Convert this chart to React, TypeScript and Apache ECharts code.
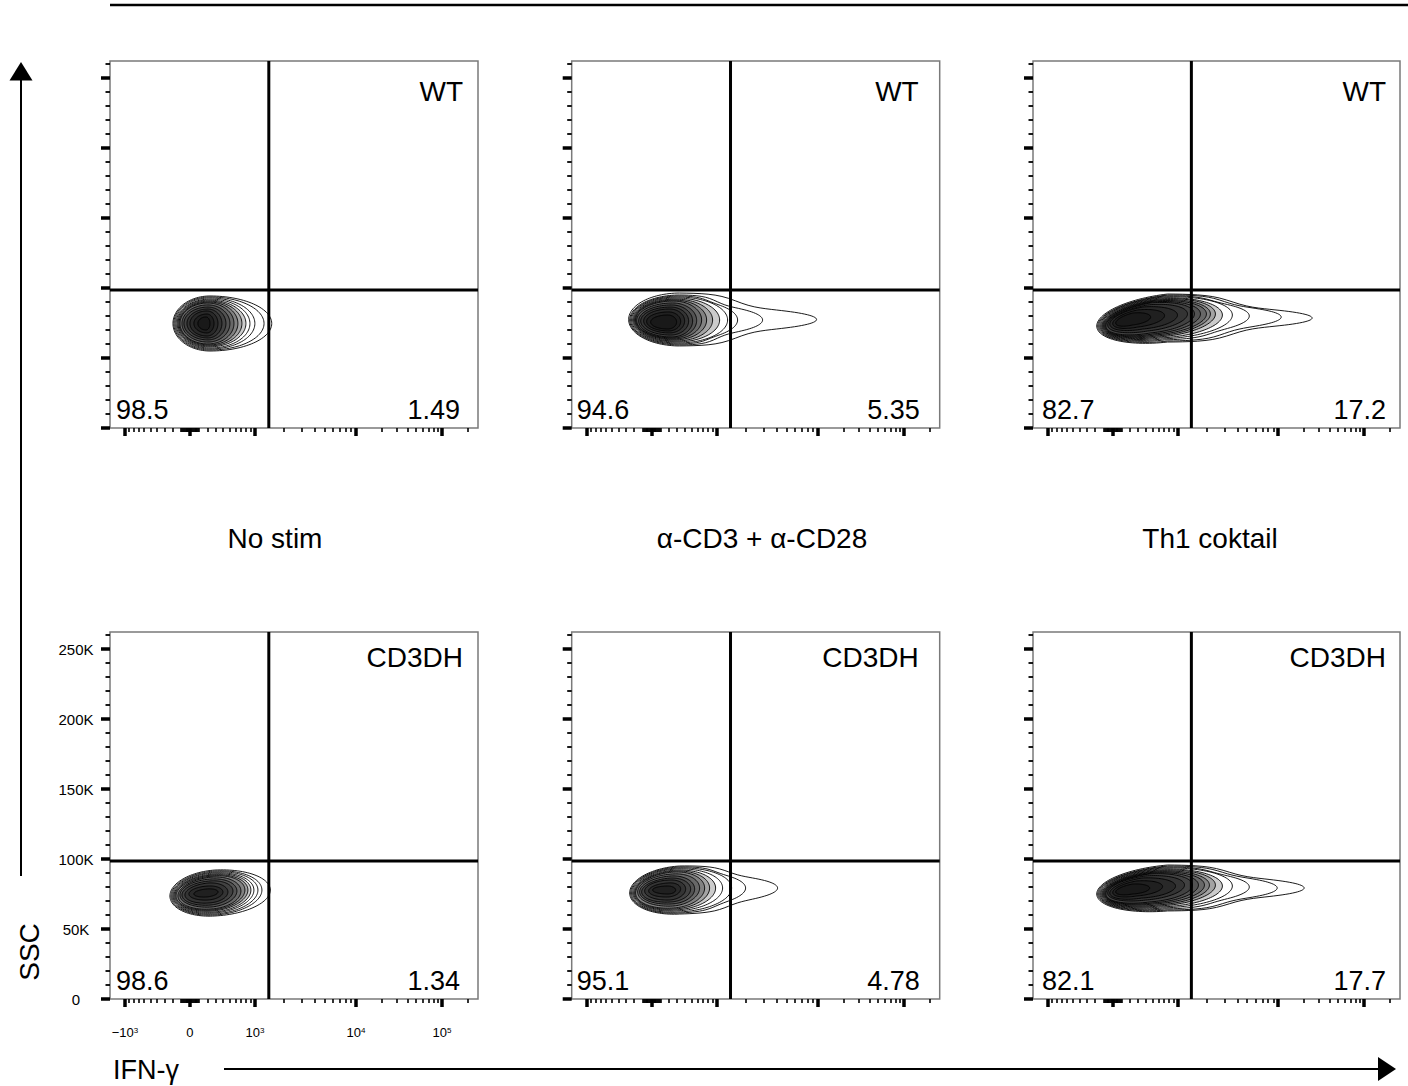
import React, { useEffect, useRef } from 'react';
import * as echarts from 'echarts';

// ---------------- data ----------------
const GROUPS = ['WT', 'WT', 'WT', 'CD3DH', 'CD3DH', 'CD3DH'];
const CONDITIONS = ['No stim', 'α-CD3 + α-CD28', 'Th1 coktail'];
const Q_LOWER_LEFT = ['98.5', '94.6', '82.7', '98.6', '95.1', '82.1'];
const Q_LOWER_RIGHT = ['1.49', '5.35', '17.2', '1.34', '4.78', '17.7'];

const GATE_IFNG = 1400;
const GATE_SSC = 98600;
const SSC_MAX = 262144;
const IFNG_MAX = 262144;
const IFNG_MIN = -1436;

const X_MAJOR_TICKS = [-1000, 0, 1000, 10000, 100000];
const X_MAJOR_LABELS = ['−10{s|3}', '0', '10{s|3}', '10{s|4}', '10{s|5}'];
const X_MINOR_TICKS = [
  -900, -800, -700, -600, -500, -400, -300, -200, -100,
  -90, -80, -70, -60, -50, -40, -30, -20, -10,
  10, 20, 30, 40, 50, 60, 70, 80, 90,
  100, 200, 300, 400, 500, 600, 700, 800, 900,
  2000, 3000, 4000, 5000, 6000, 7000, 8000, 9000,
  20000, 30000, 40000, 50000, 60000, 70000, 80000, 90000,
  200000,
];
const Y_MAJOR_TICKS = [0, 50000, 100000, 150000, 200000, 250000];
const Y_MAJOR_LABELS = ['0', '50K', '100K', '150K', '200K', '250K'];
const Y_MINOR_TICKS = [
  10000, 20000, 30000, 40000, 60000, 70000, 80000, 90000,
  110000, 120000, 130000, 140000, 160000, 170000, 180000, 190000,
  210000, 220000, 230000, 240000, 260000,
];

// contour level records, outer -> inner:
// [ifngLow, ifngPeak, ifngHigh, sscLow, sscHigh, tail, neck, sscShiftLowEnd, sscShiftHighEnd]
const CONTOURS_WT_NOSTIM = [
  [-193, 230, 1500, 55000, 94300, 0, 0, 0, 0],
  [-182, 230, 1250, 55700, 93600, 0, 0, 0, 0],
  [-170, 230, 1000, 56400, 92900, 0, 0, 0, 0],
  [-158, 230, 883, 57100, 92100, 0, 0, 0, 0],
  [-146, 217, 796, 57900, 91400, 0, 0, 0, 0],
  [-135, 217, 715, 58600, 90700, 0, 0, 0, 0],
  [-123, 217, 640, 59300, 90000, 0, 0, 0, 0],
  [-112, 205, 571, 60000, 89300, 0, 0, 0, 0],
  [-89, 205, 505, 61400, 87900, 0, 0, 0, 0],
  [-67, 205, 444, 62900, 86400, 0, 0, 0, 0],
  [-33, 205, 386, 64300, 85000, 0, 0, 0, 0],
  [0, 193, 332, 65700, 83600, 0, 0, 0, 0],
  [44, 193, 280, 67900, 81400, 0, 0, 0, 0],
  [89, 182, 230, 70000, 79300, 0, 0, 0, 0],
];
const CONTOURS_WT_CD3 = [
  [-267, 332, 9770, 58600, 96400, 0.5, 0.42, 0, 0],
  [-254, 332, 2925, 59300, 95000, 0.35, 0.45, 0, 0],
  [-242, 318, 1653, 60000, 94300, 0.15, 0.5, 0, 0],
  [-230, 305, 1307, 60700, 93600, 0, 0, 0, 0],
  [-217, 292, 1078, 61400, 92900, 0, 0, 0, 0],
  [-205, 280, 905, 62100, 92100, 0, 0, 0, 0],
  [-193, 267, 775, 62900, 91400, 0, 0, 0, 0],
  [-182, 254, 677, 63600, 90700, 0, 0, 0, 0],
  [-170, 242, 588, 64300, 89300, 0, 0, 0, 0],
  [-146, 230, 521, 65000, 87900, 0, 0, 0, 0],
  [-123, 217, 459, 66400, 86400, 0, 0, 0, 0],
  [-89, 205, 400, 67900, 85000, 0, 0, 0, 0],
  [-56, 193, 345, 69300, 82900, 0, 0, 0, 0],
  [-11, 182, 292, 70700, 80700, 0, 0, 0, 0],
];
const CONTOURS_WT_TH1 = [
  [-182, 775, 24830, 61400, 95700, 0.5, 0.45, -5700, 0],
  [-170, 775, 10830, 62100, 95000, 0.4, 0.5, -5700, 700],
  [-158, 715, 5237, 62900, 94300, 0.2, 0.55, -5700, 1400],
  [-146, 677, 3580, 63600, 93600, 0, 0, -5700, 2100],
  [-135, 640, 2860, 64300, 92900, 0, 0, -5700, 2100],
  [-123, 605, 2441, 65000, 92100, 0, 0, -5700, 2900],
  [-112, 571, 2178, 65700, 91400, 0, 0, -5700, 2900],
  [-101, 537, 1988, 66400, 90700, 0, 0, -5700, 2900],
  [-89, 505, 1732, 67100, 90000, 0, 0, -5700, 2900],
  [-78, 474, 1506, 67900, 89300, 0, 0, -5700, 2900],
  [-56, 429, 1276, 69300, 87900, 0, 0, -5000, 2900],
  [-33, 359, 1000, 70700, 86400, 0, 0, -4300, 2100],
  [0, 292, 715, 72100, 84300, 0, 0, -3600, 2100],
  [33, 230, 474, 73600, 82100, 0, 0, -2900, 1400],
];
const CONTOURS_KO_NOSTIM = [
  [-230, 292, 1450, 59300, 92100, 0, 0, -2100, 2100],
  [-217, 292, 1188, 60000, 91400, 0, 0, -2100, 2100],
  [-205, 292, 1078, 60700, 90700, 0, 0, -2100, 2100],
  [-193, 280, 976, 61400, 90000, 0, 0, -2100, 2100],
  [-182, 280, 905, 62100, 89300, 0, 0, -2100, 2100],
  [-170, 267, 838, 62900, 88600, 0, 0, -2100, 2100],
  [-158, 267, 775, 63600, 87900, 0, 0, -2100, 2100],
  [-135, 254, 696, 64300, 87100, 0, 0, -2100, 1400],
  [-112, 242, 622, 65700, 85700, 0, 0, -1400, 1400],
  [-89, 230, 554, 67100, 84300, 0, 0, -1400, 1400],
  [-56, 217, 474, 68600, 82900, 0, 0, -1400, 700],
  [-11, 205, 400, 70700, 80700, 0, 0, -700, 700],
  [44, 193, 332, 72900, 78600, 0, 0, -700, 700],
];
const CONTOURS_KO_CD3 = [
  [-254, 332, 4096, 60700, 95000, 0.35, 0.5, -2100, 1400],
  [-242, 318, 1988, 61400, 94300, 0.2, 0.55, -2100, 1400],
  [-230, 305, 1437, 62100, 93600, 0, 0, -2100, 1400],
  [-217, 292, 1159, 62900, 92900, 0, 0, -2100, 1400],
  [-205, 280, 976, 63600, 92100, 0, 0, -2100, 1400],
  [-193, 267, 838, 64300, 91400, 0, 0, -2100, 1400],
  [-182, 254, 735, 65000, 90700, 0, 0, -2100, 1400],
  [-158, 242, 640, 66400, 89300, 0, 0, -1400, 1400],
  [-135, 230, 554, 67900, 87900, 0, 0, -1400, 700],
  [-112, 217, 490, 69300, 86400, 0, 0, -1400, 700],
  [-78, 205, 415, 70700, 85000, 0, 0, -700, 700],
  [-33, 193, 345, 72900, 82900, 0, 0, -700, 700],
  [11, 182, 280, 75000, 80700, 0, 0, 0, 0],
];
const CONTOURS_KO_TH1 = [
  [-182, 775, 20040, 62900, 95700, 0.45, 0.45, -4300, 0],
  [-170, 775, 9773, 63600, 95000, 0.35, 0.5, -4300, 0],
  [-158, 715, 5237, 64300, 94300, 0.2, 0.55, -4300, 700],
  [-146, 677, 3580, 65000, 93600, 0, 0, -4300, 1400],
  [-135, 640, 2860, 65700, 92900, 0, 0, -4300, 1400],
  [-123, 605, 2441, 66400, 92100, 0, 0, -4300, 2100],
  [-112, 571, 2129, 67100, 91400, 0, 0, -4300, 2100],
  [-101, 537, 1899, 67900, 90700, 0, 0, -4300, 2100],
  [-89, 505, 1653, 68600, 90000, 0, 0, -4300, 2100],
  [-78, 459, 1437, 69300, 89300, 0, 0, -4300, 2100],
  [-56, 400, 1188, 70700, 87900, 0, 0, -3600, 2100],
  [-33, 345, 952, 72100, 86400, 0, 0, -3600, 1400],
  [0, 280, 677, 73600, 84300, 0, 0, -2900, 1400],
  [33, 230, 459, 75000, 82100, 0, 0, -2100, 700],
];
const PANEL_CONTOURS = [
  CONTOURS_WT_NOSTIM, CONTOURS_WT_CD3, CONTOURS_WT_TH1,
  CONTOURS_KO_NOSTIM, CONTOURS_KO_CD3, CONTOURS_KO_TH1,
];

// ---------------- scale (biexponential-like display transform) ----------------
const BIEX_W = 500;
const G1 = Math.asinh(20);
function biex(v: number): number {
  const g = Math.asinh(v / BIEX_W);
  return g <= G1 ? 80 + 45 * g : 80 + 45 * G1 + 37.4 * (g - G1);
}
const X_AXIS_MIN = biex(IFNG_MIN);
const X_AXIS_MAX = biex(IFNG_MAX);

// ---------------- layout ----------------
const FONT = '"Liberation Sans", Arial, Helvetica, sans-serif';
const COL_LEFT = [110, 571.7, 1033];
const COL_WIDTH = [368, 368, 367];
const ROW_TOP = [61, 632];
const PANEL_H = 367;
const LEFT_INSET = [6, 5, 9];
const RIGHT_INSET = [18, 20, 14];
const GROUP_INSET = [15, 21, 14];
const COND_X = [275, 762, 1210];

function renderContour(params: any, api: any) {
  const r: number[] = [];
  for (let i = 0; i < 9; i++) r.push(Number(api.value(i)));
  const [xl, xm, xr, lo, hi, tail, neck, dyL, dyR] = r;
  const XL = biex(xl), XM = biex(xm), XR = biex(xr);
  const yc = (lo + hi) / 2;
  const h = (hi - lo) / 2;
  const pts: number[][] = [];
  const N = 120;
  for (let i = 0; i < N; i++) {
    const th = Math.PI - (2 * Math.PI * i) / N;
    const c = Math.cos(th);
    const s = Math.sin(th);
    let x: number, f = 1, dy: number;
    if (c < 0) {
      x = XM + (XM - XL) * c;
      dy = dyL * -c;
    } else {
      x = XM + (XR - XM) * c;
      dy = dyR * c;
      if (tail > 0) f = 1 - tail / (1 + Math.exp(-(c - neck) / 0.07));
    }
    pts.push(api.coord([x, yc + dy + h * s * f]));
  }
  const filled = params.dataIndex >= 4;
  return {
    type: 'polygon',
    shape: { points: pts },
    style: {
      fill: filled ? 'rgba(0,0,0,0.2)' : 'rgba(0,0,0,0)',
      stroke: '#000',
      lineWidth: 0.9,
    },
    silent: true,
  };
}

function textEl(text: string, x: number, y: number, size: number, align: string, vAlign = 'middle', rotation = 0) {
  return {
    type: 'text',
    x,
    y,
    rotation,
    silent: true,
    style: {
      text,
      fill: '#000',
      fontSize: size,
      fontFamily: FONT,
      align,
      verticalAlign: vAlign,
      textAlign: align,
      textVerticalAlign: vAlign,
    },
  };
}

function buildOption() {
  const grid: any[] = [];
  const xAxis: any[] = [];
  const yAxis: any[] = [];
  const series: any[] = [];
  const graphic: any[] = [];

  for (let p = 0; p < 6; p++) {
    const col = p % 3;
    const row = Math.floor(p / 3);
    const left = COL_LEFT[col];
    const top = ROW_TOP[row];
    const width = COL_WIDTH[col];
    const labels = p === 3;
    grid.push({
      left, top, width, height: PANEL_H,
      show: true, borderColor: '#7a7a7a', borderWidth: 1.5, backgroundColor: '#fff',
    });
    const xBase = {
      type: 'value', gridIndex: p, position: 'bottom', min: X_AXIS_MIN, max: X_AXIS_MAX,
      axisLine: { show: false }, splitLine: { show: false },
    };
    xAxis.push({
      ...xBase,
      axisTick: { show: true, length: 8, customValues: X_MAJOR_TICKS.map(biex), lineStyle: { color: '#000', width: 3.5 } },
      axisLabel: {
        show: labels,
        customValues: X_MAJOR_TICKS.map(biex),
        margin: 27,
        fontSize: 13,
        fontFamily: FONT,
        color: '#000',
        formatter: (v: number) => {
          let best = 0;
          for (let i = 0; i < X_MAJOR_TICKS.length; i++) {
            if (Math.abs(biex(X_MAJOR_TICKS[i]) - v) < Math.abs(biex(X_MAJOR_TICKS[best]) - v)) best = i;
          }
          return X_MAJOR_LABELS[best];
        },
        rich: { s: { fontSize: 8, fontFamily: FONT, color: '#000', verticalAlign: 'top', lineHeight: 9 } },
      },
    });
    xAxis.push({
      ...xBase,
      axisTick: { show: true, length: 4, customValues: X_MINOR_TICKS.map(biex), lineStyle: { color: '#000', width: 1.6 } },
      axisLabel: { show: false },
    });
    const yBase = {
      type: 'value', gridIndex: p, position: 'left', min: 0, max: SSC_MAX,
      axisLine: { show: false }, splitLine: { show: false },
    };
    yAxis.push({
      ...yBase,
      axisTick: { show: true, length: 9, customValues: Y_MAJOR_TICKS, lineStyle: { color: '#000', width: 3.5 } },
      axisLabel: {
        show: labels,
        customValues: Y_MAJOR_TICKS,
        align: 'center',
        margin: 34,
        fontSize: 15,
        fontFamily: FONT,
        color: '#000',
        formatter: (v: number) => {
          const i = Y_MAJOR_TICKS.indexOf(Math.round(v));
          return i >= 0 ? Y_MAJOR_LABELS[i] : '';
        },
      },
    });
    yAxis.push({
      ...yBase,
      axisTick: { show: true, length: 4.5, customValues: Y_MINOR_TICKS, lineStyle: { color: '#000', width: 1.8 } },
      axisLabel: { show: false },
    });

    series.push({
      type: 'custom',
      xAxisIndex: 2 * p,
      yAxisIndex: 2 * p,
      data: PANEL_CONTOURS[p],
      renderItem: renderContour,
      silent: true,
      z: 2,
    });
    series.push({
      type: 'line',
      xAxisIndex: 2 * p,
      yAxisIndex: 2 * p,
      data: [[biex(GATE_IFNG), 0], [biex(GATE_IFNG), SSC_MAX]],
      symbol: 'none',
      silent: true,
      lineStyle: { color: '#000', width: 3 },
      z: 5,
    });
    series.push({
      type: 'line',
      xAxisIndex: 2 * p,
      yAxisIndex: 2 * p,
      data: [[X_AXIS_MIN, GATE_SSC], [X_AXIS_MAX, GATE_SSC]],
      symbol: 'none',
      silent: true,
      lineStyle: { color: '#000', width: 3 },
      z: 5,
    });

    const bottom = top + PANEL_H;
    graphic.push(textEl(GROUPS[p], left + width - GROUP_INSET[col], top + (row === 0 ? 30 : 25), 28, 'right'));
    graphic.push(textEl(Q_LOWER_LEFT[p], left + LEFT_INSET[col], bottom - 18, 27, 'left'));
    graphic.push(textEl(Q_LOWER_RIGHT[p], left + width - RIGHT_INSET[col], bottom - 18, 27, 'right'));
  }

  for (let c = 0; c < 3; c++) graphic.push(textEl(CONDITIONS[c], COND_X[c], 538, 28, 'center'));

  graphic.push({ type: 'line', silent: true, shape: { x1: 110, y1: 5, x2: 1408, y2: 5 }, style: { stroke: '#000', lineWidth: 2.5 } });
  graphic.push({ type: 'line', silent: true, shape: { x1: 21, y1: 876, x2: 21, y2: 76 }, style: { stroke: '#000', lineWidth: 2 } });
  graphic.push({ type: 'polygon', silent: true, shape: { points: [[21, 62], [9.5, 80.5], [32.5, 80.5]] }, style: { fill: '#000' } });
  graphic.push({ type: 'line', silent: true, shape: { x1: 224, y1: 1069, x2: 1382, y2: 1069 }, style: { stroke: '#000', lineWidth: 2 } });
  graphic.push({ type: 'polygon', silent: true, shape: { points: [[1396, 1069], [1378, 1057], [1378, 1081]] }, style: { fill: '#000' } });
  graphic.push(textEl('SSC', 29, 952, 28, 'center', 'middle', Math.PI / 2));
  graphic.push(textEl('IFN-γ', 113, 1070, 27, 'left'));

  return {
    animation: false,
    backgroundColor: '#fff',
    grid,
    xAxis,
    yAxis,
    series,
    graphic,
  };
}

export default function App() {
  const ref = useRef<HTMLDivElement>(null);
  useEffect(() => {
    document.body.style.margin = '0';
    if (!ref.current) return;
    const chart = echarts.init(ref.current, null, { renderer: 'svg' });
    chart.setOption(buildOption() as any);
    return () => chart.dispose();
  }, []);
  return (
    <div
      ref={ref}
      style={{ position: 'absolute', left: 0, top: 0, width: 1408, height: 1086, background: '#fff' }}
    />
  );
}
